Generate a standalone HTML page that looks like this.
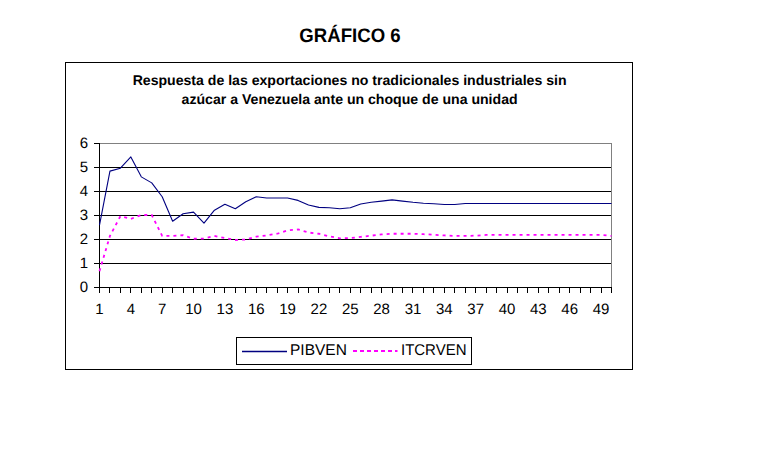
<!DOCTYPE html>
<html><head><meta charset="utf-8"><title>GRÁFICO 6</title>
<style>
html,body{margin:0;padding:0;background:#fff;}
body{width:771px;height:465px;overflow:hidden;}
svg{display:block;}
text{font-family:"Liberation Sans",sans-serif;fill:#000;text-rendering:geometricPrecision;}
.ax{font-size:15px;}
.lg{font-size:15.5px;}
.t1{font-size:19.5px;font-weight:bold;}
.t2{font-size:14.1px;font-weight:bold;}
</style></head>
<body>
<svg width="771" height="465" viewBox="0 0 771 465">
<rect x="65.5" y="62.5" width="567" height="307" fill="#fff" stroke="#000" stroke-width="1"/>
<line x1="94" y1="263.5" x2="611" y2="263.5" stroke="#000" stroke-width="1"/>
<line x1="94" y1="239.5" x2="611" y2="239.5" stroke="#000" stroke-width="1"/>
<line x1="94" y1="215.5" x2="611" y2="215.5" stroke="#000" stroke-width="1"/>
<line x1="94" y1="191.5" x2="611" y2="191.5" stroke="#000" stroke-width="1"/>
<line x1="94" y1="167.5" x2="611" y2="167.5" stroke="#000" stroke-width="1"/>
<line x1="94" y1="143.5" x2="99" y2="143.5" stroke="#000" stroke-width="1"/>
<line x1="99" y1="143.5" x2="612" y2="143.5" stroke="#808080" stroke-width="1"/>
<line x1="611.5" y1="143" x2="611.5" y2="288" stroke="#808080" stroke-width="1"/>
<line x1="94" y1="287.5" x2="612" y2="287.5" stroke="#000" stroke-width="1"/>
<line x1="99.5" y1="288" x2="99.5" y2="293" stroke="#000" stroke-width="1"/>
<line x1="109.5" y1="288" x2="109.5" y2="293" stroke="#000" stroke-width="1"/>
<line x1="120.5" y1="288" x2="120.5" y2="293" stroke="#000" stroke-width="1"/>
<line x1="130.5" y1="288" x2="130.5" y2="293" stroke="#000" stroke-width="1"/>
<line x1="141.5" y1="288" x2="141.5" y2="293" stroke="#000" stroke-width="1"/>
<line x1="151.5" y1="288" x2="151.5" y2="293" stroke="#000" stroke-width="1"/>
<line x1="162.5" y1="288" x2="162.5" y2="293" stroke="#000" stroke-width="1"/>
<line x1="172.5" y1="288" x2="172.5" y2="293" stroke="#000" stroke-width="1"/>
<line x1="183.5" y1="288" x2="183.5" y2="293" stroke="#000" stroke-width="1"/>
<line x1="193.5" y1="288" x2="193.5" y2="293" stroke="#000" stroke-width="1"/>
<line x1="203.5" y1="288" x2="203.5" y2="293" stroke="#000" stroke-width="1"/>
<line x1="214.5" y1="288" x2="214.5" y2="293" stroke="#000" stroke-width="1"/>
<line x1="224.5" y1="288" x2="224.5" y2="293" stroke="#000" stroke-width="1"/>
<line x1="235.5" y1="288" x2="235.5" y2="293" stroke="#000" stroke-width="1"/>
<line x1="245.5" y1="288" x2="245.5" y2="293" stroke="#000" stroke-width="1"/>
<line x1="256.5" y1="288" x2="256.5" y2="293" stroke="#000" stroke-width="1"/>
<line x1="266.5" y1="288" x2="266.5" y2="293" stroke="#000" stroke-width="1"/>
<line x1="277.5" y1="288" x2="277.5" y2="293" stroke="#000" stroke-width="1"/>
<line x1="287.5" y1="288" x2="287.5" y2="293" stroke="#000" stroke-width="1"/>
<line x1="298.5" y1="288" x2="298.5" y2="293" stroke="#000" stroke-width="1"/>
<line x1="308.5" y1="288" x2="308.5" y2="293" stroke="#000" stroke-width="1"/>
<line x1="318.5" y1="288" x2="318.5" y2="293" stroke="#000" stroke-width="1"/>
<line x1="329.5" y1="288" x2="329.5" y2="293" stroke="#000" stroke-width="1"/>
<line x1="339.5" y1="288" x2="339.5" y2="293" stroke="#000" stroke-width="1"/>
<line x1="350.5" y1="288" x2="350.5" y2="293" stroke="#000" stroke-width="1"/>
<line x1="360.5" y1="288" x2="360.5" y2="293" stroke="#000" stroke-width="1"/>
<line x1="371.5" y1="288" x2="371.5" y2="293" stroke="#000" stroke-width="1"/>
<line x1="381.5" y1="288" x2="381.5" y2="293" stroke="#000" stroke-width="1"/>
<line x1="392.5" y1="288" x2="392.5" y2="293" stroke="#000" stroke-width="1"/>
<line x1="402.5" y1="288" x2="402.5" y2="293" stroke="#000" stroke-width="1"/>
<line x1="412.5" y1="288" x2="412.5" y2="293" stroke="#000" stroke-width="1"/>
<line x1="423.5" y1="288" x2="423.5" y2="293" stroke="#000" stroke-width="1"/>
<line x1="433.5" y1="288" x2="433.5" y2="293" stroke="#000" stroke-width="1"/>
<line x1="444.5" y1="288" x2="444.5" y2="293" stroke="#000" stroke-width="1"/>
<line x1="454.5" y1="288" x2="454.5" y2="293" stroke="#000" stroke-width="1"/>
<line x1="465.5" y1="288" x2="465.5" y2="293" stroke="#000" stroke-width="1"/>
<line x1="475.5" y1="288" x2="475.5" y2="293" stroke="#000" stroke-width="1"/>
<line x1="486.5" y1="288" x2="486.5" y2="293" stroke="#000" stroke-width="1"/>
<line x1="496.5" y1="288" x2="496.5" y2="293" stroke="#000" stroke-width="1"/>
<line x1="507.5" y1="288" x2="507.5" y2="293" stroke="#000" stroke-width="1"/>
<line x1="517.5" y1="288" x2="517.5" y2="293" stroke="#000" stroke-width="1"/>
<line x1="527.5" y1="288" x2="527.5" y2="293" stroke="#000" stroke-width="1"/>
<line x1="538.5" y1="288" x2="538.5" y2="293" stroke="#000" stroke-width="1"/>
<line x1="548.5" y1="288" x2="548.5" y2="293" stroke="#000" stroke-width="1"/>
<line x1="559.5" y1="288" x2="559.5" y2="293" stroke="#000" stroke-width="1"/>
<line x1="569.5" y1="288" x2="569.5" y2="293" stroke="#000" stroke-width="1"/>
<line x1="580.5" y1="288" x2="580.5" y2="293" stroke="#000" stroke-width="1"/>
<line x1="590.5" y1="288" x2="590.5" y2="293" stroke="#000" stroke-width="1"/>
<line x1="601.5" y1="288" x2="601.5" y2="293" stroke="#000" stroke-width="1"/>
<line x1="611.5" y1="288" x2="611.5" y2="293" stroke="#000" stroke-width="1"/>
<line x1="99.5" y1="143" x2="99.5" y2="293" stroke="#000" stroke-width="1"/>
<polyline points="99.50,225.10 109.95,171.10 120.40,168.22 130.85,156.94 141.30,176.86 151.74,182.86 162.19,196.78 172.64,221.26 183.09,213.82 193.54,212.14 203.99,223.18 214.44,210.22 224.89,204.22 235.34,208.78 245.79,201.82 256.23,196.78 266.68,197.98 277.13,197.98 287.58,197.98 298.03,200.38 308.48,204.94 318.93,207.34 329.38,207.82 339.83,208.78 350.28,207.82 360.72,203.98 371.17,202.30 381.62,201.10 392.07,199.90 402.52,201.10 412.97,202.30 423.42,203.26 433.87,203.74 444.32,204.46 454.77,204.46 465.21,203.50 475.66,203.50 486.11,203.50 496.56,203.50 507.01,203.50 517.46,203.50 527.91,203.50 538.36,203.50 548.81,203.50 559.26,203.50 569.70,203.50 580.15,203.50 590.60,203.50 601.05,203.50 611.50,203.50" fill="none" stroke="#000080" stroke-width="1.1" stroke-linejoin="round"/>
<polyline points="99.50,271.18 109.95,235.90 120.40,216.22 130.85,218.86 141.30,215.02 151.74,215.02 162.19,235.90 172.64,235.90 183.09,235.18 193.54,238.78 203.99,238.54 214.44,235.90 224.89,238.06 235.34,239.98 245.79,239.50 256.23,236.62 266.68,235.42 277.13,233.74 287.58,230.38 298.03,229.42 308.48,232.54 318.93,233.74 329.38,236.38 339.83,238.30 350.28,238.06 360.72,236.86 371.17,235.66 381.62,234.46 392.07,233.74 402.52,233.74 412.97,233.74 423.42,234.22 433.87,234.70 444.32,235.42 454.77,235.90 465.21,235.90 475.66,235.66 486.11,234.94 496.56,234.94 507.01,234.94 517.46,234.94 527.91,234.94 538.36,234.94 548.81,234.94 559.26,234.94 569.70,234.94 580.15,234.94 590.60,234.94 601.05,234.94 611.50,235.90" fill="none" stroke="#FF00FF" stroke-width="1.8" stroke-dasharray="3 4"/>
<text transform="translate(88,292) scale(1,1)" text-anchor="end" class="ax">0</text>
<text transform="translate(88,268) scale(1,1)" text-anchor="end" class="ax">1</text>
<text transform="translate(88,244) scale(1,1)" text-anchor="end" class="ax">2</text>
<text transform="translate(88,220) scale(1,1)" text-anchor="end" class="ax">3</text>
<text transform="translate(88,196) scale(1,1)" text-anchor="end" class="ax">4</text>
<text transform="translate(88,172) scale(1,1)" text-anchor="end" class="ax">5</text>
<text transform="translate(88,148) scale(1,1)" text-anchor="end" class="ax">6</text>
<text transform="translate(99.50,313.5) scale(1,1)" text-anchor="middle" class="ax">1</text>
<text transform="translate(130.85,313.5) scale(1,1)" text-anchor="middle" class="ax">4</text>
<text transform="translate(162.19,313.5) scale(1,1)" text-anchor="middle" class="ax">7</text>
<text transform="translate(193.54,313.5) scale(1,1)" text-anchor="middle" class="ax">10</text>
<text transform="translate(224.89,313.5) scale(1,1)" text-anchor="middle" class="ax">13</text>
<text transform="translate(256.24,313.5) scale(1,1)" text-anchor="middle" class="ax">16</text>
<text transform="translate(287.58,313.5) scale(1,1)" text-anchor="middle" class="ax">19</text>
<text transform="translate(318.93,313.5) scale(1,1)" text-anchor="middle" class="ax">22</text>
<text transform="translate(350.28,313.5) scale(1,1)" text-anchor="middle" class="ax">25</text>
<text transform="translate(381.62,313.5) scale(1,1)" text-anchor="middle" class="ax">28</text>
<text transform="translate(412.97,313.5) scale(1,1)" text-anchor="middle" class="ax">31</text>
<text transform="translate(444.32,313.5) scale(1,1)" text-anchor="middle" class="ax">34</text>
<text transform="translate(475.66,313.5) scale(1,1)" text-anchor="middle" class="ax">37</text>
<text transform="translate(507.01,313.5) scale(1,1)" text-anchor="middle" class="ax">40</text>
<text transform="translate(538.36,313.5) scale(1,1)" text-anchor="middle" class="ax">43</text>
<text transform="translate(569.70,313.5) scale(1,1)" text-anchor="middle" class="ax">46</text>
<text transform="translate(601.05,313.5) scale(1,1)" text-anchor="middle" class="ax">49</text>
<rect x="236.5" y="337.5" width="235" height="27" fill="#fff" stroke="#000" stroke-width="1"/>
<line x1="242" y1="351.5" x2="287" y2="351.5" stroke="#000080" stroke-width="1.5"/>
<text transform="translate(290,355) scale(1,1)" class="lg">PIBVEN</text>
<line x1="353" y1="351" x2="397.5" y2="351" stroke="#FF00FF" stroke-width="2" stroke-dasharray="4 3"/>
<text transform="translate(401,355) scale(0.966,1)" class="lg">ITCRVEN</text>
<text transform="translate(350,41.8) scale(0.954,1)" text-anchor="middle" class="t1">GRÁFICO 6</text>
<text x="349.6" y="84.8" text-anchor="middle" class="t2">Respuesta de las exportaciones no tradicionales industriales sin</text>
<text x="349.6" y="103.7" text-anchor="middle" class="t2">azúcar a Venezuela ante un choque de una unidad</text>
</svg>
</body></html>
